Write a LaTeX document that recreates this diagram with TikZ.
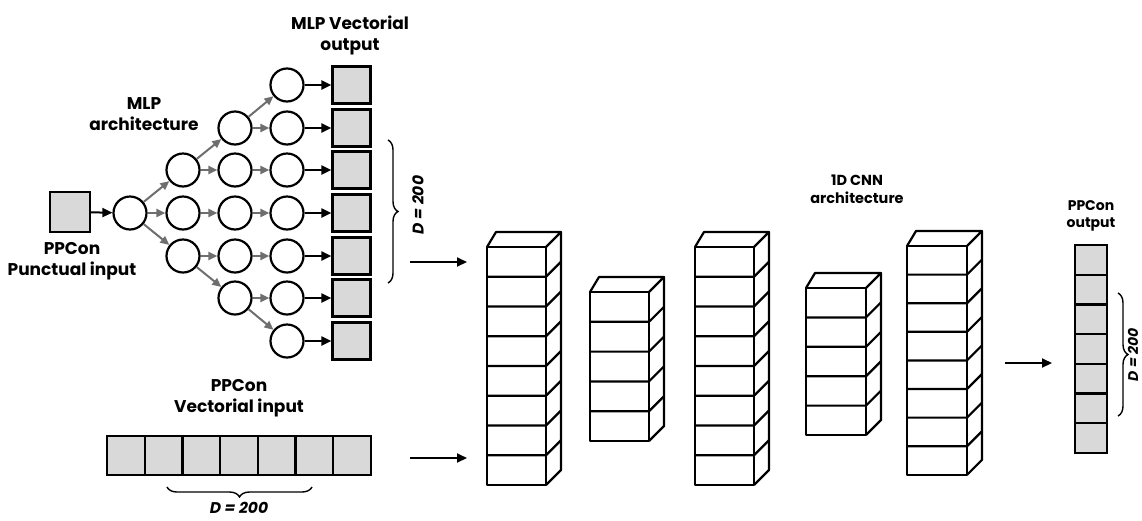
\documentclass[tikz,border=0pt]{standalone}
\usepackage{fontspec}
\setmainfont{Poppins}
\usetikzlibrary{arrows.meta,decorations.pathreplacing}
\definecolor{cellgray}{HTML}{D9D9D9}
\definecolor{arrgray}{HTML}{6E6E6E}
\tikzset{
  neuron/.style={circle,draw=black,line width=2.2pt,minimum size=33pt,inner sep=0pt},
  outcell/.style={rectangle,draw=black,line width=2.2pt,fill=cellgray,minimum width=38pt,minimum height=39pt,inner sep=0pt},
  garr/.style={draw=arrgray,line width=2pt,-{Triangle[length=9pt,width=8pt]}},
  barr/.style={draw=black,line width=2pt,-{Triangle[length=10pt,width=9pt]}},
  lbl/.style={font=\bfseries\fontsize{17}{21}\selectfont,align=center,inner sep=0pt},
  dlbl/.style={font=\bfseries\itshape\fontsize{15.5}{18}\selectfont,inner sep=0pt},
  brc/.style={draw=black,line width=1.4pt,decorate,decoration={brace,amplitude=10pt}},
  cube/.style={draw=black,line width=2.2pt,line join=round},
}
\newcommand{\cnncol}[5]{%
  \pgfmathsetmacro\cbot{#2+#4*#5}
  \draw[cube] (#1,#2) rectangle (#1+#3,\cbot);
  \foreach \i in {1,...,\numexpr#4-1\relax}{\draw[cube] (#1,#2+\i*#5) -- (#1+#3,#2+\i*#5) -- (#1+#3+15,#2+\i*#5-15);}
  \draw[cube] (#1,#2) -- (#1+9,#2-15) -- (#1+#3+15,#2-15) -- (#1+#3,#2);
  \draw[cube] (#1+#3+15,#2-15) -- (#1+#3+15,\cbot-15) -- (#1+#3,\cbot);
}
\begin{document}
\begin{tikzpicture}[x=1pt,y=-1pt]
\useasboundingbox (0,0) rectangle (1142,520);
% --- MLP ---
\node[outcell,minimum width=40pt,minimum height=40pt] (in) at (70,212) {};
\node[neuron] (c1) at (130,213) {};
\foreach \n/\y in {a/170,b/213,c/256}{\node[neuron] (c2\n) at (183,\y) {};}
\foreach \n/\y in {a/128,b/170,c/213,d/256,e/298}{\node[neuron] (c3\n) at (235,\y) {};}
\foreach \n/\y [count=\k] in {a/85,b/128,c/170,d/213,e/256,f/298,g/341}{
  \node[neuron] (c4\n) at (287,\y) {};
  \node[outcell,minimum height=37pt] (o\k) at (351.5,\y) {};
  \draw[barr] (c4\n) -- (o\k);
}
\draw[barr] (in) -- (c1);
\foreach \n in {a,b,c}{\draw[garr] (c1) -- (c2\n);}
\draw[garr] (c2a) -- (c3a); \draw[garr] (c2a) -- (c3b);
\draw[garr] (c2b) -- (c3c);
\draw[garr] (c2c) -- (c3d); \draw[garr] (c2c) -- (c3e);
\draw[garr] (c3a) -- (c4a); \draw[garr] (c3a) -- (c4b);
\draw[garr] (c3b) -- (c4c); \draw[garr] (c3c) -- (c4d); \draw[garr] (c3d) -- (c4e);
\draw[garr] (c3e) -- (c4f); \draw[garr] (c3e) -- (c4g);
\node[lbl] (tmlp) at (144,114) {MLP\\architecture};
\node[lbl] (tin) at (72,261) {PPCon\\Punctual input};
\node[lbl] (tout) at (350,35) {MLP Vectorial\\output};
\draw[brc] (388,140) -- (388,283);
\node[dlbl,rotate=90] (d1) at (418,205) {D = 200};
% --- Vectorial input ---
\node[lbl] (tvin) at (239,398) {PPCon\\Vectorial input};
\foreach \k in {0,...,6}{\node[outcell,minimum width=37.7pt,minimum height=39pt] (v\k) at (107+18.85+\k*37.7,455.5) {};}
\draw[brc] (312,487) -- (167,487);
\node[dlbl] (d2) at (239,508) {D = 200};
% --- arrows to CNN ---
\coordinate (a1s) at (410,262); \coordinate (a1e) at (467,262);
\coordinate (a2s) at (410,458); \coordinate (a2e) at (467,458);
\draw[barr] (a1s) -- (a1e);
\draw[barr] (a2s) -- (a2e);
% --- CNN ---
\cnncol{487}{247}{59}{8}{29.75}
\cnncol{590}{292}{59}{5}{29.8}
\cnncol{695}{247}{59}{8}{29.75}
\cnncol{806}{288}{60}{5}{29.4}
\cnncol{907}{246}{60}{8}{28.6}
\node[lbl,font=\bfseries\fontsize{14.5}{18}\selectfont] (tcnn) at (857,189) {1D CNN\\architecture};
% --- output ---
\coordinate (a3s) at (1005,363); \coordinate (a3e) at (1052,363);
\draw[barr] (a3s) -- (a3e);
\foreach \k in {0,...,6}{\node[outcell,minimum width=32pt,minimum height=29.7pt] (p\k) at (1091,245+14.85+\k*29.7) {};}
\node[lbl,font=\bfseries\fontsize{14}{17}\selectfont] (tpo) at (1091,216) {PPCon\\output};
\draw[brc] (1118,293) -- (1118,416);
\node[dlbl,font=\bfseries\itshape\fontsize{14}{16}\selectfont,rotate=90] (d3) at (1133,355) {D = 200};
\end{tikzpicture}
\end{document}
